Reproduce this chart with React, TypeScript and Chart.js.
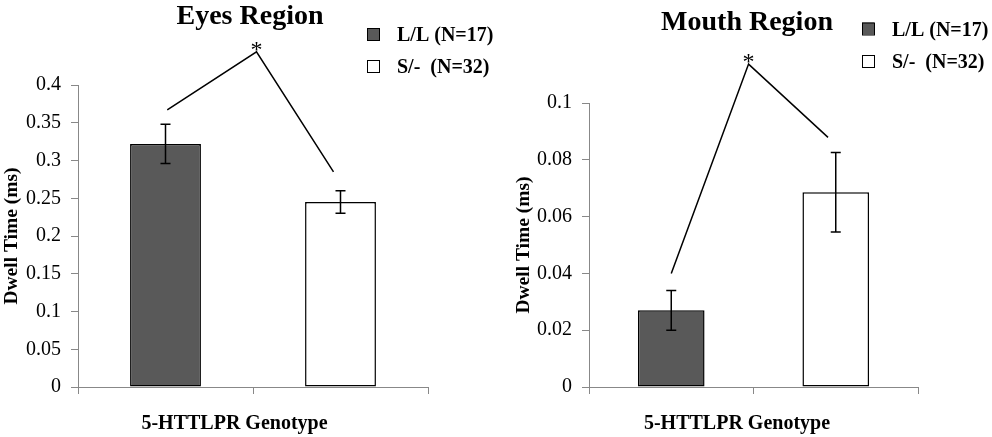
import React, { useEffect, useRef } from 'react';
import { Chart, registerables } from 'chart.js';

Chart.register(...registerables);

// ---- data ----
const categories = ['L/L', 'S/-'];
const groupLabels = ['L/L (N=17)', 'S/-  (N=32)'];
const groupColors = ['#595959', '#ffffff'];

const eyesMeans = [0.322, 0.245];
const eyesErrors = [0.026, 0.015];
const eyesTickMax = 0.4;
const eyesTickStep = 0.05;
const eyesSigX = [0.01, 0.52, 0.96];
const eyesSigY = [0.367, 0.444, 0.285];

const mouthMeans = [0.027, 0.0686];
const mouthErrors = [0.007, 0.014];
const mouthTickMax = 0.1;
const mouthTickStep = 0.02;
const mouthSigX = [0.0, 0.47, 0.953];
const mouthSigY = [0.04, 0.1137, 0.0879];

const FONT = "'Liberation Serif', 'Times New Roman', serif";

type PanelCfg = {
  title: string;
  means: number[];
  errors: number[];
  max: number;
  step: number;
  sigX: number[];
  sigY: number[];
  layout: {
    padding: { left: number; top: number; right: number; bottom: number };
    yWidth: number;
    xHeight: number;
    titleX: number;
    titleBase: number;
    legendSquareX: number;
    legendTextX: number;
    legendCenters: number[];
    legendBases: number[];
    xTitleX: number;
    xTitleBase: number;
  };
};

function makePlugin(cfg: PanelCfg) {
  return {
    id: 'panelDecor',
    afterDatasetsDraw(chart: any) {
      const { ctx } = chart;
      const x = chart.scales.x;
      const y = chart.scales.y;
      ctx.save();
      ctx.strokeStyle = '#000';
      ctx.lineWidth = 1.5;
      // error bars
      chart.data.datasets.forEach((ds: any, i: number) => {
        const meta = chart.getDatasetMeta(i);
        ds.data.forEach((v: number | null, j: number) => {
          if (v == null) return;
          const el = meta.data[j];
          const err = cfg.errors[j];
          const px = el.x;
          const t = y.getPixelForValue(v + err);
          const b = y.getPixelForValue(v - err);
          ctx.beginPath();
          ctx.moveTo(px, t);
          ctx.lineTo(px, b);
          ctx.moveTo(px - 5, t);
          ctx.lineTo(px + 5, t);
          ctx.moveTo(px - 5, b);
          ctx.lineTo(px + 5, b);
          ctx.stroke();
        });
      });
      // significance line
      ctx.beginPath();
      cfg.sigX.forEach((sx, k) => {
        const px = x.getPixelForValue(sx);
        const py = y.getPixelForValue(cfg.sigY[k]);
        if (k === 0) ctx.moveTo(px, py);
        else ctx.lineTo(px, py);
      });
      ctx.stroke();
      // asterisk above the peak
      const peakX = x.getPixelForValue(cfg.sigX[1]);
      const peakY = y.getPixelForValue(cfg.sigY[1]);
      ctx.fillStyle = '#000';
      ctx.font = `24px ${FONT}`;
      ctx.textAlign = 'center';
      ctx.textBaseline = 'alphabetic';
      ctx.fillText('*', peakX, peakY + 5);
      ctx.restore();
    },
    afterDraw(chart: any) {
      const { ctx } = chart;
      const L = cfg.layout;
      ctx.save();
      ctx.fillStyle = '#000';
      // title
      ctx.font = `bold 28px ${FONT}`;
      ctx.textAlign = 'center';
      ctx.textBaseline = 'alphabetic';
      ctx.fillText(cfg.title, L.titleX, L.titleBase);
      // x title
      ctx.font = `bold 20px ${FONT}`;
      ctx.fillText('5-HTTLPR Genotype', L.xTitleX, L.xTitleBase);
      // legend
      chart.data.datasets.forEach((ds: any, i: number) => {
        const cy = L.legendCenters[i];
        ctx.fillStyle = ds.backgroundColor;
        ctx.fillRect(L.legendSquareX, cy - 6, 12, 12);
        ctx.strokeStyle = '#000';
        ctx.lineWidth = 1;
        ctx.strokeRect(L.legendSquareX + 0.5, cy - 6 + 0.5, 12, 12);
        ctx.fillStyle = '#000';
        ctx.font = `bold 20px ${FONT}`;
        ctx.textAlign = 'left';
        ctx.fillText(ds.label, L.legendTextX, L.legendBases[i]);
      });
      ctx.restore();
    },
  };
}

function Panel({ cfg, left }: { cfg: PanelCfg; left: number }) {
  const ref = useRef<HTMLCanvasElement | null>(null);
  useEffect(() => {
    if (!ref.current) return;
    const L = cfg.layout;
    const datasets = groupLabels.map((label, i) => ({
      label,
      data: cfg.means.map((v, j) => (j === i ? v : null)),
      backgroundColor: groupColors[i],
      borderColor: '#000',
      borderWidth: 1.5,
      borderSkipped: false as const,
      barPercentage: 0.405,
      categoryPercentage: 1,
      skipNull: true,
    }));
    const chart = new Chart(ref.current, {
      type: 'bar',
      data: { labels: categories, datasets },
      options: {
        animation: false,
        responsive: false,
        layout: { padding: L.padding },
        plugins: {
          legend: { display: false },
          title: { display: false },
          tooltip: { enabled: false },
        },
        scales: {
          x: {
            offset: true,
            grid: {
              display: true,
              drawOnChartArea: false,
              drawTicks: true,
              tickLength: 7,
              color: '#888',
              offset: true,
            },
            border: { display: true, color: '#888', width: 1 },
            ticks: { display: false },
            afterFit: (s: any) => {
              s.height = L.xHeight;
            },
          },
          y: {
            min: 0,
            max: cfg.max,
            grid: {
              drawOnChartArea: false,
              drawTicks: true,
              tickLength: 7,
              color: '#888',
            },
            border: { display: true, color: '#888', width: 1 },
            ticks: {
              stepSize: cfg.step,
              padding: 10,
              color: '#000',
              font: { family: FONT, size: 20 },
              callback: (v: any) => String(Number(Number(v).toFixed(3))),
            },
            title: {
              display: true,
              text: 'Dwell Time (ms)',
              color: '#000',
              padding: { top: 0, bottom: 0 },
              font: { family: FONT, size: 19.5, weight: 'bold' },
            },
            afterFit: (s: any) => {
              s.width = L.yWidth;
            },
          },
        },
      },
      plugins: [makePlugin(cfg)],
    } as any);
    return () => chart.destroy();
  }, [cfg]);
  return (
    <div style={{ position: 'absolute', left, top: 0, width: 496, height: 437 }}>
      <canvas ref={ref} width={496} height={437} style={{ width: 496, height: 437, display: 'block' }} />
    </div>
  );
}

const eyesCfg: PanelCfg = {
  title: 'Eyes Region',
  means: eyesMeans,
  errors: eyesErrors,
  max: eyesTickMax,
  step: eyesTickStep,
  sigX: eyesSigX,
  sigY: eyesSigY,
  layout: {
    padding: { left: 0, top: 85, right: 68, bottom: 0 },
    yWidth: 78,
    xHeight: 50,
    titleX: 250,
    titleBase: 24,
    legendSquareX: 367,
    legendTextX: 397,
    legendCenters: [34, 66],
    legendBases: [41, 73],
    xTitleX: 234.5,
    xTitleBase: 429,
  },
};

const mouthCfg: PanelCfg = {
  title: 'Mouth Region',
  means: mouthMeans,
  errors: mouthErrors,
  max: mouthTickMax,
  step: mouthTickStep,
  sigX: mouthSigX,
  sigY: mouthSigY,
  layout: {
    padding: { left: 16, top: 103, right: 74, bottom: 0 },
    yWidth: 77,
    xHeight: 50,
    titleX: 251,
    titleBase: 30,
    legendSquareX: 366,
    legendTextX: 396,
    legendCenters: [28.5, 61],
    legendBases: [35.5, 68],
    xTitleX: 241,
    xTitleBase: 429,
  },
};

export default function App() {
  return (
    <div style={{ position: 'absolute', left: 0, top: 0, width: 992, height: 437, background: '#fff', overflow: 'hidden' }}>
      <Panel cfg={eyesCfg} left={0} />
      <Panel cfg={mouthCfg} left={496} />
    </div>
  );
}
